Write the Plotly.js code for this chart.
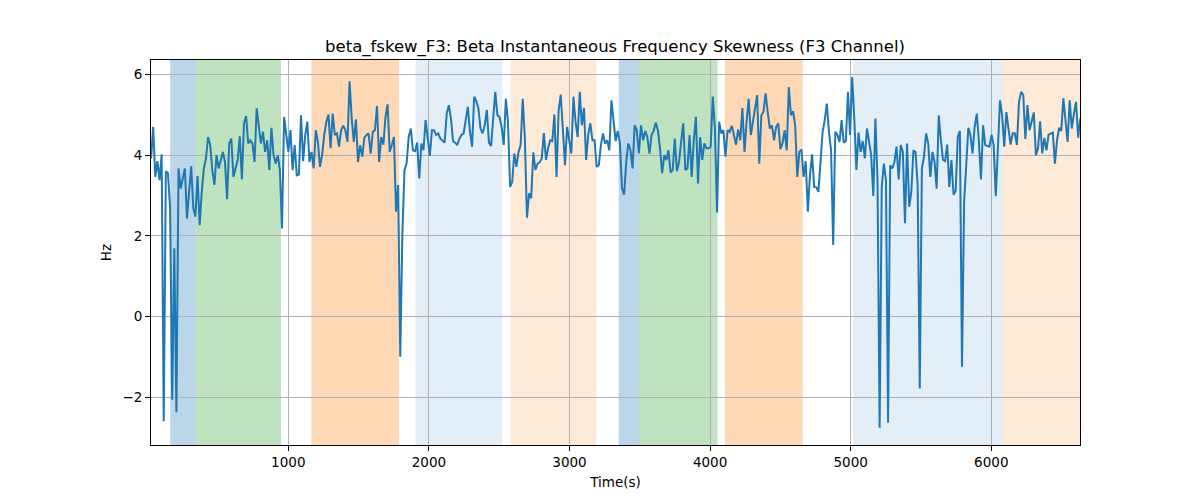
<!DOCTYPE html>
<html>
<head>
<meta charset="utf-8">
<script src="https://cdn.plot.ly/plotly-3.0.1.min.js"></script>
<style>html,body{margin:0;padding:0;background:#fff;} #chart{width:1200px;height:500px;}</style>
</head>
<body>
<div id="chart"></div>
<script>
// Sampling of the signal (seconds)
const startTime = 24;
const sampleStep = 15.02;

// Beta instantaneous frequency skewness values (Hz)
const skewValues = [
  3.92, 4.7, 3.46, 3.85, 3.38, 4.02, -2.6, 3.6, 3.55, 2.7, -2.07, 1.69, -2.38, 3.67, 3.17, 3.42, 3.67, 2.43, 3.0, 3.73,
  2.68, 2.47, 3.48, 2.26, 3.09, 3.67, 3.92, 4.45, 4.25, 3.63, 3.26, 4.0, 3.67, 3.88, 4.08, 3.83, 2.91, 4.29, 4.41, 3.46,
  3.67, 3.88, 4.47, 3.40, 4.79, 4.97, 4.29, 4.37, 4.29, 3.83, 5.16, 4.79, 4.29, 4.58, 4.08, 4.37, 3.63, 4.68, 4.0, 3.79,
  4.0, 3.63, 2.18, 4.95, 4.5, 4.08, 4.62, 3.63, 4.25, 3.5, 3.52, 4.99, 3.85,
  4.5, 4.83, 3.83, 4.08, 3.67, 4.62, 4.33, 3.71, 4.0, 4.5, 4.83, 5.01, 4.17, 5.03, 4.5, 4.54, 4.21, 4.62, 4.73, 4.62,
  4.33, 5.83, 4.91, 4.33, 4.89, 3.83, 4.25, 3.96, 4.43, 4.5, 4.54, 4.04, 4.58, 4.62, 5.22, 3.83, 4.45, 4.26, 4.95, 5.26,
  4.08, 4.25, 4.45, 2.6, 3.26, -1.0, 2.06, 3.63, 3.79, 4.45, 4.66, 4.12, 4.1, 4.31, 3.42, 4.29, 4.12, 4.87, 4.33, 3.98,
  4.62, 4.62, 4.5, 4.54, 4.41, 4.35, 4.31, 5.03, 5.24, 4.91, 4.35, 4.31, 4.25, 4.41,
  4.5, 4.54, 4.87, 5.2, 4.58, 4.21, 5.45, 5.34, 5.16, 4.66, 4.54, 4.74, 5.12, 4.31, 4.23, 4.95, 5.57, 4.99, 4.95, 4.7,
  4.25, 5.4, 4.83, 3.21, 3.34, 4.04, 3.71, 4.08, 4.25, 5.4, 4.41, 2.45, 3.05, 2.93, 4.07, 3.63, 3.79, 3.82, 3.92, 4.55,
  3.88, 4.17, 4.37, 4.35, 5.01, 3.46, 5.12, 5.5, 4.54, 3.75, 4.7, 4.33, 4.04, 5.45, 4.83, 4.45, 5.57, 4.74, 5.17, 3.88,
  4.5, 4.79, 4.37, 4.37, 3.71, 3.75, 4.25, 4.54, 4.29, 4.37, 4.12, 5.36, 4.83,
  4.35, 4.6, 4.29, 3.17, 3.02, 3.83, 4.29, 4.12, 3.67, 4.74, 4.62, 4.04, 4.74, 4.37, 4.6, 4.45, 4.04, 4.5, 4.6, 4.81,
  4.62, 4.17, 3.55, 4.0, 3.88, 4.12, 3.57, 3.63, 4.41, 3.6, 3.83, 4.33, 4.79, 3.63, 3.67, 4.5, 3.46, 4.37, 4.95, 3.3,
  4.45, 3.88, 4.29, 4.17, 4.17, 4.21, 5.45, 4.66, 2.58, 4.83, 4.54, 4.62, 3.96, 4.62, 4.58, 4.73, 4.5, 4.26, 4.64, 4.37,
  5.17, 4.08, 4.83, 5.4, 4.5, 4.83, 5.16, 5.49, 3.79, 4.99, 5.07, 5.53, 5.07, 4.66,
  4.74, 4.37, 4.7, 4.79, 4.15, 4.29, 4.62, 4.12, 5.69, 4.99, 5.09, 4.74, 3.46, 4.08, 4.14, 3.46, 3.85, 2.6, 3.5, 4.02,
  3.21, 3.2, 3.09, 3.75, 4.58, 4.87, 5.28, 4.58, 4.12, 1.77, 4.58, 4.5, 4.33, 4.87, 4.31, 4.35, 5.57, 4.5, 5.94, 4.91,
  3.63, 4.56, 4.08, 4.35, 3.92, 4.66, 4.37, 4.0, 2.99, 4.91, 3.34, -2.76, 3.21, 3.79, 3.38, -2.64, 3.75, 3.67, 3.83, 4.21,
  3.40, 4.25, 4.08, 2.31, 4.29, 2.72, 3.09, 4.12, 4.08, 3.26, -1.79,
  3.67, 3.96, 4.54, 4.29, 3.46, 4.08, 3.83, 3.17, 4.99, 4.37, 3.88, 3.85, 4.26, 3.21, 3.88, 3.02, 3.11, 4.45, 4.6, -1.25,
  2.84, 3.75, 4.68, 4.5, 4.04, 4.7, 5.03, 4.33, 3.40, 4.74, 4.25, 4.23, 4.21, 4.51, 4.25, 2.98, 4.33, 5.36, 4.99, 4.21,
  5.07, 4.7, 4.26, 4.54, 4.54, 4.25, 5.32, 5.57, 5.49, 4.4, 5.24, 4.62, 4.83, 5.06, 4.0, 4.17, 4.84, 4.04, 4.43, 4.12,
  4.51, 4.54, 4.56, 3.79, 4.37, 4.68, 4.6, 5.41, 4.83, 4.33, 5.36, 4.66, 5.03, 5.32, 4.43, 4.91
];

// Shaded stage intervals (seconds) and their kind
const bandStarts = [160, 343, 1164, 1905, 2581, 3350, 3495, 4105, 5019, 6080];
const bandEnds   = [343, 948, 1788, 2522, 3191, 3495, 4053, 4659, 6080, 6631];
const bandKinds  = ['blue', 'green', 'orange', 'lightblue', 'peach', 'blue', 'green', 'orange', 'lightblue', 'peach'];

// Axis ticks
const xTicks = [1000, 2000, 3000, 4000, 5000, 6000];
const yTicks = [-2, 0, 2, 4, 6];

const bandColors = {
  blue: 'rgba(31,119,180,0.3)',
  green: 'rgba(44,160,44,0.3)',
  orange: 'rgba(255,127,14,0.3)',
  lightblue: 'rgba(31,119,180,0.12)',
  peach: 'rgba(255,127,14,0.16)'
};

const times = skewValues.map((_, i) => startTime + i * sampleStep);

const shapes = bandStarts.map((s, i) => ({
  type: 'rect', xref: 'x', yref: 'paper', x0: s, x1: bandEnds[i], y0: 0, y1: 1,
  fillcolor: bandColors[bandKinds[i]], line: {width: 0}, layer: 'below'
}));

const font = {family: 'DejaVu Sans, sans-serif', color: '#000'};

Plotly.newPlot('chart', [{
  x: times, y: skewValues, type: 'scatter', mode: 'lines',
  line: {color: '#1f77b4', width: 2}, hoverinfo: 'skip'
}], {
  width: 1200, height: 500,
  margin: {l: 151, r: 120, t: 60, b: 55},
  paper_bgcolor: '#fff', plot_bgcolor: 'rgba(0,0,0,0)',
  font: Object.assign({size: 13.5}, font),
  showlegend: false,
  title: {text: 'beta_fskew_F3: Beta Instantaneous Frequency Skewness (F3 Channel)',
          font: Object.assign({size: 16.5}, font), x: 0.5125, xanchor: 'center', y: 0.908, yanchor: 'middle', yref: 'container'},
  xaxis: {
    range: [23.5, 6631], tickvals: xTicks, ticktext: xTicks.map(String),
    showgrid: true, gridcolor: '#b0b0b0', gridwidth: 1,
    zeroline: false, showline: true, linecolor: '#000', linewidth: 1, mirror: true,
    ticks: 'outside', ticklen: 5, tickcolor: '#000',
    title: {text: 'Time(s)', font: Object.assign({size: 13.5}, font), standoff: 8}
  },
  yaxis: {
    range: [-3.19, 6.36], tickvals: yTicks, ticktext: yTicks.map(v => v < 0 ? '\u2212' + Math.abs(v) : String(v)),
    showgrid: true, gridcolor: '#b0b0b0', gridwidth: 1,
    zeroline: false, showline: true, linecolor: '#000', linewidth: 1, mirror: true,
    ticks: 'outside', ticklen: 5, tickcolor: '#000',
    title: {text: 'Hz', font: Object.assign({size: 13.5}, font), standoff: 7}
  },
  shapes: shapes
}, {staticPlot: true, displayModeBar: false});
</script>
</body>
</html>
